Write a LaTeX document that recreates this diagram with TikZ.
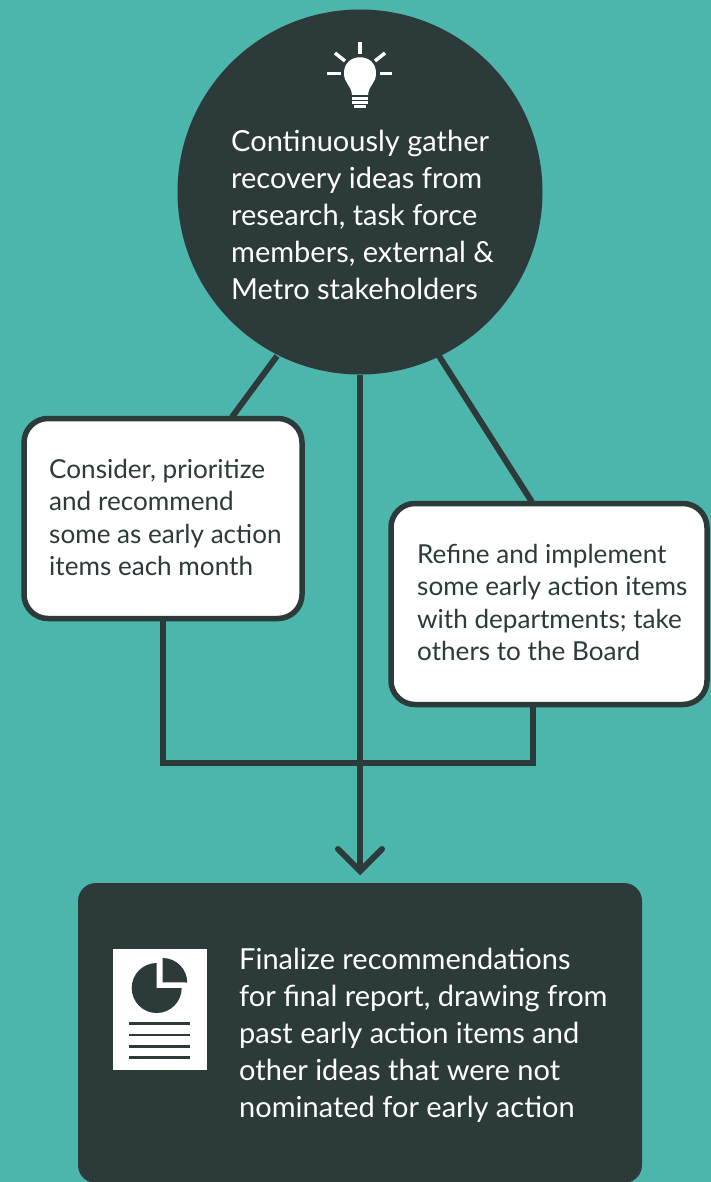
\documentclass[tikz,border=0pt]{standalone}
\usepackage{fontspec}
\setmainfont{Lato}
\definecolor{teal}{HTML}{4DB6AC}
\definecolor{dark}{HTML}{2C3A3A}
\tikzset{
 conn/.style={draw=dark,line width=6pt},
 lbl/.style={align=left,anchor=north west,inner sep=0pt},
 big/.style={lbl,text=white,font=\fontsize{29}{37}\selectfont},
 small/.style={lbl,text=dark,font=\fontsize{26.1}{32.5}\selectfont},
 wbox/.style={draw=dark,line width=5.5pt,fill=white,rounded corners=24pt,inner sep=0pt},
 ray/.style={draw=white,line width=3.5pt},
 bar/.style={draw=white,line width=2.5pt},
 rule/.style={draw=dark,line width=2.5pt},
}
\begin{document}
\begin{tikzpicture}[x=1pt,y=-1pt]
\useasboundingbox (0,0) rectangle (711,1182);
\fill[teal] (0,0) rectangle (711,1182);
\coordinate (join) at (360,763);
\coordinate (hl) at (277,356);
\coordinate (ll) at (232,417);
\coordinate (hr) at (439,356);
\coordinate (rr) at (532,502);
\coordinate (tip) at (360,871);
\coordinate (lb) at (163,618);
\coordinate (rb) at (533,705);
\coordinate (ah1) at (338,849);
\coordinate (ah2) at (382,849);
\node[circle,fill=dark,minimum size=365pt,inner sep=0pt] (hub) at (360,192) {};
\node[wbox,minimum width=278pt,minimum height=200pt] (left) at (163,518.5) {};
\node[wbox,minimum width=316pt,minimum height=201pt] (right) at (549,604) {};
\node[fill=dark,rounded corners=18pt,minimum width=564pt,minimum height=300pt,inner sep=0pt] (final) at (360,1033) {};
\draw[conn] (hl) -- (ll);
\draw[conn] (hr) -- (rr);
\draw[conn] (hub.south) -- (tip);
\draw[conn,line cap=round] (ah1) -- (tip) -- (ah2);
\draw[conn] (lb) |- (join) -| (rb);
% labels
\node[big] (t1) at (231,129.5) {Continuously gather\\recovery ideas from\\research, task force\\members, external \&\\Metro stakeholders};
\node[small] (t2) at (49,459) {Consider, prioritize\\and recommend\\some as early action\\items each month};
\node[small] (t3) at (417,544) {Refine and implement\\some early action items\\with departments; take\\others to the Board};
\node[big] (t4) at (239,948) {Finalize recommendations\\for final report, drawing from\\past early action items and\\other ideas that were not\\nominated for early action};
% bulb icon
\draw[ray] (360,42) -- (360,54);
\draw[ray] (335,53) -- (345,61);
\draw[ray] (385,53) -- (375,61);
\draw[ray] (327,73.5) -- (341,73.5);
\draw[ray] (380,73.5) -- (392,73.5);
\fill[white] (352,95) .. controls (351,84) and (344,84) .. (344,73) .. controls (344,52) and (376,52) .. (376,73) .. controls (376,84) and (369,84) .. (368,95) -- cycle;
\draw[bar] (352,98.5) -- (368,98.5) (352,102.5) -- (368,102.5);
\draw[bar] (354,106.5) -- (366,106.5);
% document icon
\fill[white] (113,949) rectangle (207,1070);
\fill[dark] (156.7,988) -- (156.7,963) arc[start angle=90,end angle=360,radius=25pt] -- cycle;
\fill[dark] (162.7,982.3) -- (162.7,958) arc[start angle=90,end angle=0,radius=24.5pt] -- cycle;
\draw[rule] (129,1023.5) -- (190,1023.5) (129,1035) -- (190,1035) (129,1046.5) -- (190,1046.5) (129,1057.5) -- (190,1057.5);
\end{tikzpicture}
\end{document}
